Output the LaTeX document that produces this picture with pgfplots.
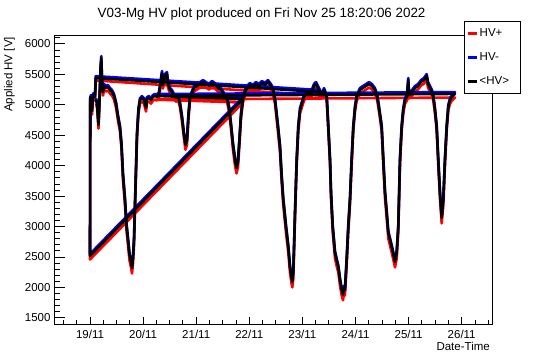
\documentclass[border=0pt]{standalone}
\usepackage{fontspec}
\setmainfont{Liberation Sans}
\usepackage{pgfplots}
\usepackage{pgfplotstable}
\pgfplotsset{compat=1.18}

% t = days since 19/11 00:00 ; hvp = HV+ ; hvm = HV- ; hv = <HV>
\pgfplotstableread{
t hvp hvm hv
0.113 5020 5110 5080
0.132 4955 5045 5015
0.160 4610 4700 4670
0.179 5020 5110 5080
0.198 5513 5603 5573
0.213 5710 5800 5770
0.226 5349 5439 5409
0.245 5152 5242 5212
0.264 5250 5340 5310
0.301 5218 5308 5278
0.339 5234 5324 5294
0.377 5185 5275 5245
0.414 5152 5242 5212
0.452 5086 5176 5146
0.490 4955 5045 5015
0.527 4741 4831 4801
0.565 4561 4651 4621
0.593 4282 4372 4342
0.621 3759 3879 3849
0.659 3348 3468 3438
0.687 2938 3058 3028
0.716 2692 2812 2782
0.744 2445 2565 2535
0.772 2330 2450 2420
0.791 2230 2350 2320
0.810 2396 2516 2486
0.829 2692 2812 2782
0.847 3266 3386 3356
0.866 3841 3961 3931
0.885 4446 4536 4506
0.913 4856 4946 4916
0.942 5020 5110 5080
0.979 5053 5143 5113
1.017 5020 5110 5080
1.055 4889 4979 4949
1.073 5037 5127 5097
1.111 5053 5143 5113
1.149 5020 5110 5080
1.186 5070 5160 5130
1.224 5086 5176 5146
2.881 5037 5127 5097
0.000 2460 2550 2520
0.005 5037 5127 5097
0.019 5070 5160 5130
0.038 4840 4930 4900
0.056 5086 5176 5146
0.075 5103 5193 5163
0.094 5070 5160 5130
0.109 5400 5470 5440
4.331 5152 5242 5212
4.369 5103 5193 5163
4.407 5185 5275 5245
4.458 5070 5160 5130
4.488 4577 4667 4637
4.520 4035 4125 4095
4.539 3464 3584 3554
4.571 2905 3025 2995
4.614 2478 2598 2568
4.652 2330 2450 2420
4.676 2248 2368 2338
4.708 2035 2155 2125
4.740 1871 1991 1961
4.765 1789 1909 1879
4.783 1904 2024 1994
4.802 1871 1991 1961
4.834 2363 2483 2453
4.864 2905 3025 2995
4.896 3348 3468 3438
4.928 4005 4125 4095
4.959 4577 4667 4637
4.991 4889 4979 4949
5.023 5070 5160 5130
5.085 5185 5275 5245
5.141 5218 5308 5278
5.198 5250 5340 5310
5.254 5283 5373 5343
5.311 5250 5340 5310
5.367 5185 5275 5245
5.405 5086 5176 5146
5.429 4971 5061 5031
5.461 4774 4864 4834
5.493 4577 4667 4637
5.524 4005 4125 4095
5.556 3464 3584 3554
5.588 3135 3255 3225
5.618 2807 2927 2897
5.650 2692 2812 2782
5.682 2577 2697 2667
5.716 2445 2565 2535
5.744 2330 2450 2420
5.776 2478 2598 2568
5.806 2905 3025 2995
5.838 4005 4125 4095
5.870 4577 4667 4637
5.900 4856 4946 4916
5.932 5020 5110 5080
5.970 5070 5160 5130
5.994 5349 5439 5409
6.008 5103 5193 5163
6.064 5152 5242 5212
6.121 5218 5308 5278
6.177 5250 5340 5310
6.234 5316 5406 5376
6.290 5349 5439 5409
6.341 5415 5505 5475
6.365 5283 5373 5343
6.403 5218 5308 5278
6.441 5152 5242 5212
6.465 5070 5160 5130
6.497 4856 4946 4916
6.529 4577 4667 4637
6.559 4005 4125 4095
6.591 3464 3584 3554
6.623 3053 3173 3143
6.654 3348 3468 3438
6.685 4005 4125 4095
6.718 4577 4667 4637
6.748 4906 4996 4966
6.780 5020 5110 5080
6.817 5070 5160 5130
6.874 5119 5209 5179
1.224 5086 5176 5146
1.262 5070 5160 5130
1.299 5119 5209 5179
1.337 5349 5439 5409
1.356 5464 5554 5524
1.375 5267 5357 5327
1.412 5415 5505 5475
1.450 5447 5537 5507
1.469 5283 5373 5343
1.507 5185 5275 5245
1.544 5152 5242 5212
1.582 5086 5176 5146
1.620 5053 5143 5113
1.657 5086 5176 5146
1.695 4955 5045 5015
1.733 4725 4815 4785
1.770 4446 4536 4506
1.798 4262 4372 4342
1.827 4344 4454 4424
1.855 4774 4864 4834
1.883 5053 5143 5113
1.921 5135 5225 5195
1.959 5218 5308 5278
2.015 5250 5340 5310
2.072 5283 5373 5343
2.128 5316 5406 5376
2.185 5283 5373 5343
2.241 5250 5340 5310
2.298 5300 5390 5360
2.354 5267 5357 5327
2.411 5218 5308 5278
2.467 5185 5275 5245
2.524 5103 5193 5163
2.580 5053 5143 5113
2.618 4889 4979 4949
2.655 4610 4700 4670
2.693 4262 4372 4342
2.731 4005 4125 4095
2.759 3874 3994 3964
2.787 3972 4092 4062
2.815 4344 4454 4424
2.844 4774 4864 4834
2.881 5037 5127 5097
2.919 5152 5242 5212
2.957 5218 5308 5278
3.013 5267 5357 5327
3.070 5234 5324 5294
3.126 5283 5373 5343
3.183 5250 5340 5310
3.239 5300 5390 5360
3.296 5267 5357 5327
3.352 5316 5406 5376
3.409 5250 5340 5310
3.446 5185 5275 5245
3.484 5020 5110 5080
3.540 4557 4667 4637
3.578 4229 4339 4309
3.610 3726 3846 3816
3.640 3348 3468 3438
3.691 2905 3025 2995
3.734 2577 2697 2667
3.766 2248 2368 2338
3.795 2068 2188 2158
3.810 2002 2122 2092
3.829 2150 2270 2240
3.861 3135 3255 3225
3.893 4005 4125 4095
3.923 4557 4667 4637
3.955 4856 4946 4916
4.011 5020 5110 5080
4.049 5103 5193 5163
4.105 5152 5242 5212
4.162 5119 5209 5179
4.218 5250 5340 5310
4.256 5283 5373 5343
4.294 5218 5308 5278
4.331 5152 5242 5212
}\hvdata

\begin{document}
\begin{tikzpicture}
\useasboundingbox (0,0) rectangle (546bp,362bp);
\begin{axis}[
  at={(54bp,38bp)}, anchor=south west,
  scale only axis, width=438bp, height=288bp,
  xmin=-0.678, xmax=7.571, ymin=1400, ymax=6130,
  xtick={0,1,...,7},
  xticklabels={19/11,20/11,21/11,22/11,23/11,24/11,25/11,26/11},
  minor xtick={-0.5,-0.25,...,7.5},
  ytick={1500,2000,...,6000},
  minor ytick={1500,1600,...,6100},
  tick align=inside, tick pos=left,
  axis line style={line width=1bp, black},
  xtick style={line width=0.9bp, black, /pgfplots/major tick length=7bp, /pgfplots/minor tick length=3.5bp},
  ytick style={line width=0.9bp, black, /pgfplots/major tick length=11bp, /pgfplots/minor tick length=5.5bp},
  scaled y ticks=false,
  /pgf/number format/1000 sep={},
  /pgf/number format/assume math mode=true,
  tick label style={font=\fontsize{11.5bp}{13bp}\selectfont, black},
  xticklabel style={yshift=-3bp},
  title={V03-Mg HV plot produced on Fri Nov 25 18:20:06 2022},
  title style={at={(axis description cs:0.474,1.044)}, anchor=base, inner sep=0pt, yshift=0pt, font=\fontsize{13.4bp}{16bp}\selectfont},
  xlabel={Date-Time},
  xlabel style={at={(axis description cs:0.9954,-0.0625)}, anchor=north east, inner sep=0pt, font=\fontsize{11.5bp}{13bp}\selectfont},
  ylabel={Applied HV [V]},
  ylabel style={at={(axis description cs:-0.089,0.997)}, anchor=south east, inner sep=0pt, font=\fontsize{11.5bp}{13bp}\selectfont},
  legend style={
    at={(axis description cs:0.9361,1.052)}, anchor=north west,
    draw=black, line width=1bp, fill=white,
    inner xsep=2bp, inner ysep=0bp,
    font=\fontsize{11.5bp}{13bp}\selectfont,
    row sep=0bp, column sep=2bp,
    nodes={inner sep=0bp, minimum height=24bp},
    /tikz/column 2/.style={text width=39bp},
  },
  legend cell align=left,
  legend image code/.code={\draw[#1, line width=2.2bp] (0bp,0bp) -- (9bp,0bp);},
  every axis plot/.append style={line width=2.6bp, line join=round, mark=none},
]
\addplot[red] table[x=t, y=hvp] {\hvdata};
\addlegendentry{HV+}
\addplot[blue] table[x=t, y=hvm] {\hvdata};
\addlegendentry{HV-}
\addplot[black] table[x=t, y=hv] {\hvdata};
\addlegendentry{<HV>}
\end{axis}
\end{tikzpicture}
\end{document}
